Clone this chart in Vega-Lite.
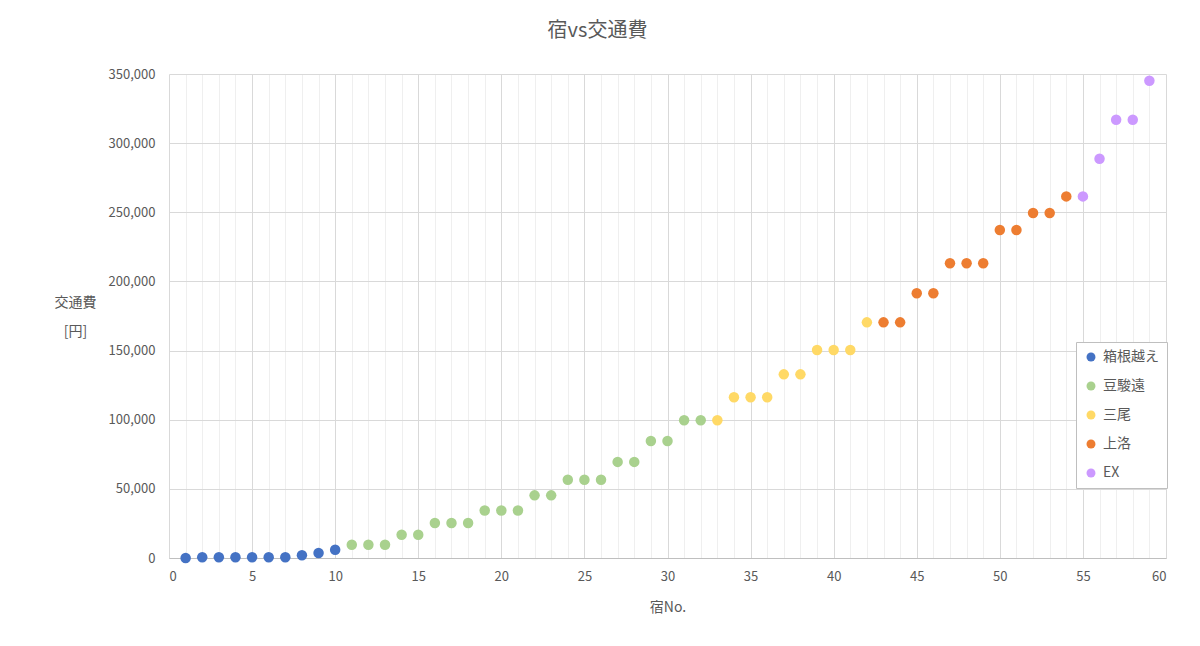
{
  "$schema": "https://vega.github.io/schema/vega-lite/v6.json",
  "width": 997,
  "height": 484,
  "autosize": {"type": "none"},
  "padding": {"left": 169, "top": 74, "right": 34, "bottom": 88},
  "background": "white",
  "title": {
    "text": "宿vs交通費",
    "fontSize": 20,
    "fontWeight": "normal",
    "color": "#595959",
    "font": "Noto Sans CJK JP",
    "anchor": "middle",
    "dx": -70,
    "offset": 27
  },
  "data": {
    "values": [
      {"no": 1, "cost": 0, "group": "箱根越え"},
      {"no": 2, "cost": 500, "group": "箱根越え"},
      {"no": 3, "cost": 500, "group": "箱根越え"},
      {"no": 4, "cost": 500, "group": "箱根越え"},
      {"no": 5, "cost": 500, "group": "箱根越え"},
      {"no": 6, "cost": 500, "group": "箱根越え"},
      {"no": 7, "cost": 500, "group": "箱根越え"},
      {"no": 8, "cost": 2000, "group": "箱根越え"},
      {"no": 9, "cost": 3600, "group": "箱根越え"},
      {"no": 10, "cost": 6000, "group": "箱根越え"},
      {"no": 11, "cost": 9600, "group": "豆駿遠"},
      {"no": 12, "cost": 9600, "group": "豆駿遠"},
      {"no": 13, "cost": 9600, "group": "豆駿遠"},
      {"no": 14, "cost": 16800, "group": "豆駿遠"},
      {"no": 15, "cost": 16800, "group": "豆駿遠"},
      {"no": 16, "cost": 25300, "group": "豆駿遠"},
      {"no": 17, "cost": 25300, "group": "豆駿遠"},
      {"no": 18, "cost": 25300, "group": "豆駿遠"},
      {"no": 19, "cost": 34400, "group": "豆駿遠"},
      {"no": 20, "cost": 34400, "group": "豆駿遠"},
      {"no": 21, "cost": 34400, "group": "豆駿遠"},
      {"no": 22, "cost": 45300, "group": "豆駿遠"},
      {"no": 23, "cost": 45300, "group": "豆駿遠"},
      {"no": 24, "cost": 56600, "group": "豆駿遠"},
      {"no": 25, "cost": 56600, "group": "豆駿遠"},
      {"no": 26, "cost": 56600, "group": "豆駿遠"},
      {"no": 27, "cost": 69500, "group": "豆駿遠"},
      {"no": 28, "cost": 69500, "group": "豆駿遠"},
      {"no": 29, "cost": 84600, "group": "豆駿遠"},
      {"no": 30, "cost": 84600, "group": "豆駿遠"},
      {"no": 31, "cost": 99600, "group": "豆駿遠"},
      {"no": 32, "cost": 99600, "group": "豆駿遠"},
      {"no": 33, "cost": 99600, "group": "三尾"},
      {"no": 34, "cost": 116200, "group": "三尾"},
      {"no": 35, "cost": 116200, "group": "三尾"},
      {"no": 36, "cost": 116200, "group": "三尾"},
      {"no": 37, "cost": 132800, "group": "三尾"},
      {"no": 38, "cost": 132800, "group": "三尾"},
      {"no": 39, "cost": 150400, "group": "三尾"},
      {"no": 40, "cost": 150400, "group": "三尾"},
      {"no": 41, "cost": 150400, "group": "三尾"},
      {"no": 42, "cost": 170400, "group": "三尾"},
      {"no": 43, "cost": 170400, "group": "上洛"},
      {"no": 44, "cost": 170400, "group": "上洛"},
      {"no": 45, "cost": 191400, "group": "上洛"},
      {"no": 46, "cost": 191400, "group": "上洛"},
      {"no": 47, "cost": 213100, "group": "上洛"},
      {"no": 48, "cost": 213100, "group": "上洛"},
      {"no": 49, "cost": 213100, "group": "上洛"},
      {"no": 50, "cost": 237200, "group": "上洛"},
      {"no": 51, "cost": 237200, "group": "上洛"},
      {"no": 52, "cost": 249500, "group": "上洛"},
      {"no": 53, "cost": 249500, "group": "上洛"},
      {"no": 54, "cost": 261500, "group": "上洛"},
      {"no": 55, "cost": 261500, "group": "EX"},
      {"no": 56, "cost": 288700, "group": "EX"},
      {"no": 57, "cost": 316900, "group": "EX"},
      {"no": 58, "cost": 316900, "group": "EX"},
      {"no": 59, "cost": 345100, "group": "EX"}
    ]
  },
  "mark": {"type": "point", "filled": true, "shape": "circle", "size": 110, "opacity": 1},
  "encoding": {
    "x": {
      "field": "no",
      "type": "quantitative",
      "scale": {"domain": [0, 60], "nice": false},
      "axis": {
        "title": "宿No.",
        "values": [0,1,2,3,4,5,6,7,8,9,10,11,12,13,14,15,16,17,18,19,20,21,22,23,24,25,26,27,28,29,30,31,32,33,34,35,36,37,38,39,40,41,42,43,44,45,46,47,48,49,50,51,52,53,54,55,56,57,58,59,60],
        "labelExpr": "datum.value % 5 === 0 ? datum.label : ''",
        "gridColor": {"condition": {"test": "datum.value % 5 === 0", "value": "#d9d9d9"}, "value": "#efefef"},
        "ticks": false,
        "domainColor": "#bfbfbf",
        "labelPadding": 12,
        "titlePadding": 17
      }
    },
    "y": {
      "field": "cost",
      "type": "quantitative",
      "scale": {"domain": [0, 350000], "nice": false},
      "axis": {
        "title": ["交通費", "[円]"],
        "values": [0, 50000, 100000, 150000, 200000, 250000, 300000, 350000],
        "format": ",.0f",
        "gridColor": "#d9d9d9",
        "ticks": false,
        "domain": false,
        "labelPadding": 14,
        "titleAngle": 0,
        "titleAlign": "center",
        "titleBaseline": "top",
        "titleX": -94,
        "titleY": 221,
        "titleLineHeight": 29
      }
    },
    "color": {
      "field": "group",
      "type": "nominal",
      "scale": {
        "domain": ["箱根越え", "豆駿遠", "三尾", "上洛", "EX"],
        "range": ["#4472C4", "#A9D18E", "#FFD966", "#ED7D31", "#CC99FF"]
      },
      "legend": {
        "title": null,
        "orient": "none",
        "legendX": 907,
        "legendY": 268,
        "strokeColor": "#bfbfbf",
        "fillColor": "white",
        "padding": 8,
        "rowPadding": 15,
        "symbolSize": 80,
        "symbolType": "circle",
        "labelFontSize": 14,
        "labelOffset": 5,
        "labelLimit": 200
      }
    }
  },
  "config": {
    "view": {"stroke": null},
    "font": "Noto Sans CJK JP",
    "axis": {
      "labelFont": "Noto Sans CJK JP",
      "titleFont": "Noto Sans CJK JP",
      "labelFontSize": 13,
      "titleFontSize": 14,
      "labelColor": "#595959",
      "titleColor": "#595959",
      "titleFontWeight": "normal",
      "gridWidth": 1
    },
    "legend": {
      "labelFont": "Noto Sans CJK JP",
      "labelColor": "#595959"
    }
  }
}
